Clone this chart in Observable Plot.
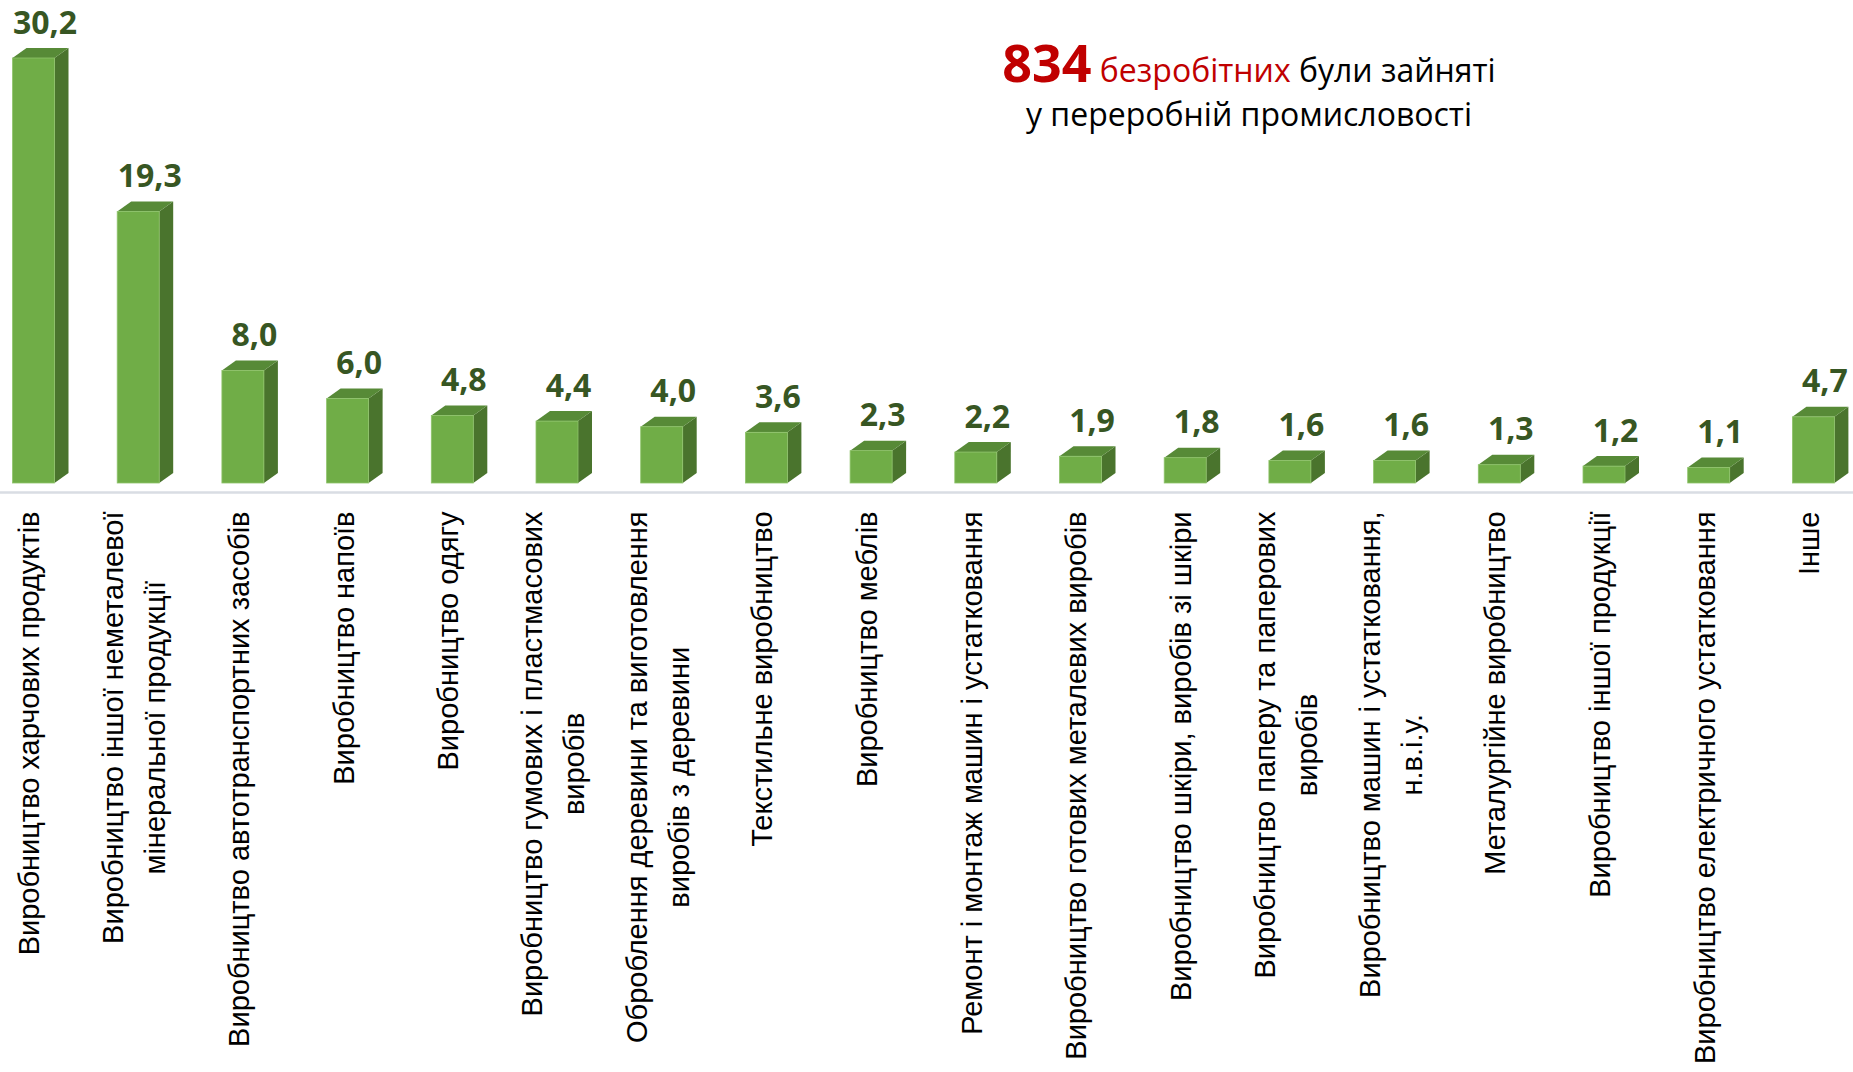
<!DOCTYPE html>
<html>
<head>
<meta charset="utf-8">
<script src="https://cdn.jsdelivr.net/npm/d3@7"></script>
<script src="https://cdn.jsdelivr.net/npm/@observablehq/plot@0.6"></script>
<style>
  html, body { margin: 0; padding: 0; background: #fff; }
  #wrap { position: relative; width: 1853px; height: 1072px; overflow: hidden; }
  #title { position: absolute; left: 1249px; top: 40px; transform: translateX(-50%);
    text-align: center; white-space: nowrap; font-family: "Open Sans", sans-serif; font-size: 32px; line-height: 44px; color: #000; }
  #title .num { color: #C00000; font-weight: 700; font-size: 52px; }
  #title .red { color: #C00000; }
</style>
</head>
<body>
<div id="wrap">
  <div id="chart"></div>
  <div id="title"><span class="num">834</span> <span class="red">безробітних</span> були зайняті<br>у переробній промисловості</div>
</div>
<script>
const categories = [
  "Виробництво харчових продуктів",
  "Виробництво іншої неметалевої\nмінеральної продукції",
  "Виробництво автотранспортних засобів",
  "Виробництво напоїв",
  "Виробництво одягу",
  "Виробництво гумових і пластмасових\nвиробів",
  "Оброблення деревини та виготовлення\nвиробів з деревини",
  "Текстильне виробництво",
  "Виробництво меблів",
  "Ремонт і монтаж машин і устатковання",
  "Виробництво готових металевих виробів",
  "Виробництво шкіри, виробів зі шкіри",
  "Виробництво паперу та паперових\nвиробів",
  "Виробництво машин і устатковання,\nн.в.і.у.",
  "Металургійне виробництво",
  "Виробництво іншої продукції",
  "Виробництво електричного устатковання",
  "Інше"
];
const values = [30.2, 19.3, 8.0, 6.0, 4.8, 4.4, 4.0, 3.6, 2.3, 2.2, 1.9, 1.8, 1.6, 1.6, 1.3, 1.2, 1.1, 4.7];

const data = categories.map((c, i) => ({category: c, value: values[i]}));
const fmt = v => v.toFixed(1).replace(".", ",");

const W = 1853, H = 1072;
const step = 104.7;
const x0 = 33.5 - step / 2;
const frontW = 42, depthX = 14, depthY = 10;
const inset = (step - frontW) / 2;
const labelTop = 511;
const labelSize = 29;
const labelFont = `${labelSize}px 'Liberation Sans'`;
const labelLH = 1.45;

const ctx2d = document.createElement("canvas").getContext("2d");
ctx2d.font = labelFont;
const maxLen = c => d3.max(c.split("\n"), s => ctx2d.measureText(s).width);

const bars3d = Plot.barY(data, {
  x: "category", y: "value", insetLeft: inset, insetRight: inset,
  render(index, scales, vals) {
    const g = d3.create("svg:g");
    for (const i of index) {
      const xl = vals.x[i] + inset;
      const xr = xl + frontW;
      const yt = Math.min(vals.y1[i], vals.y2[i]);
      const yb = Math.max(vals.y1[i], vals.y2[i]);
      g.append("path").attr("fill", "#4A742D")
        .attr("d", `M${xr},${yt}L${xr + depthX},${yt - depthY}L${xr + depthX},${yb - depthY}L${xr},${yb}Z`);
      g.append("path").attr("fill", "#578A37")
        .attr("d", `M${xl},${yt}L${xl + depthX},${yt - depthY}L${xr + depthX},${yt - depthY}L${xr},${yt}Z`);
      g.append("rect").attr("fill", "#70AD47").attr("stroke", "#8FC46B").attr("stroke-width", 0.8)
        .attr("x", xl).attr("y", yt).attr("width", frontW).attr("height", yb - yt);
    }
    return g.node();
  }
});

const chart = Plot.plot({
  width: W, height: H,
  margin: 0,
  style: {background: "#fff", overflow: "visible"},
  x: {type: "band", domain: categories, range: [x0, x0 + step * categories.length], padding: 0, round: false, axis: null},
  y: {domain: [0, 30.2], range: [483, 58], axis: null},
  marks: [
    Plot.ruleY([0], {dy: 9, stroke: "#D9DDE3", strokeWidth: 2.5}),
    bars3d,
    Plot.text(data, {
      x: "category", y: "value", text: d => fmt(d.value),
      dx: 11, dy: -25, lineAnchor: "bottom",
      fill: "#375623", fontWeight: 700, fontSize: 32, fontFamily: "Open Sans"
    }),
    Plot.text(data, {
      x: "category", y: () => 0, text: "category",
      dx: -8, rotate: -90, textAnchor: "middle", lineAnchor: "middle",
      lineHeight: labelLH, fontSize: labelSize, fontFamily: "Liberation Sans", fill: "#000",
      render(index, scales, vals, dims, context, next) {
        const Y = Float64Array.from(vals.y, (_, i) => labelTop + maxLen(categories[i]) / 2);
        return next(index, scales, {...vals, y: Y}, dims, context);
      }
    })
  ]
});
document.getElementById("chart").appendChild(chart);
</script>
</body>
</html>
